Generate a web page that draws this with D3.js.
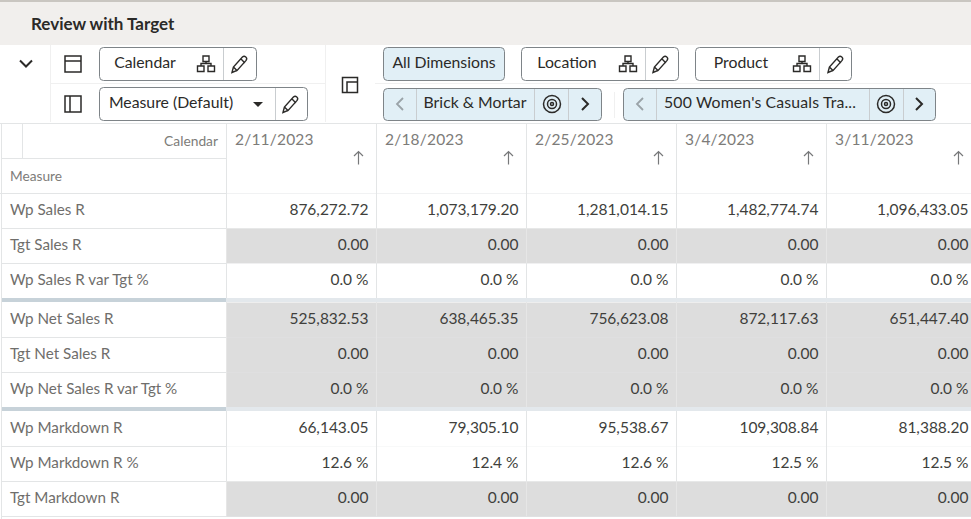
<!DOCTYPE html>
<html>
<head>
<meta charset="utf-8">
<script src="https://cdn.jsdelivr.net/npm/d3@7"></script>
<style>
  html, body { margin: 0; padding: 0; background: #fff; overflow: hidden; }
  svg { display: block; font-family: Lato, "Open Sans", sans-serif; }
</style>
</head>
<body>
<svg id="chart" width="971" height="519"></svg>
<script>
const title = "Review with Target"
const dates = ["2/11/2023", "2/18/2023", "2/25/2023", "3/4/2023", "3/11/2023"]
const measures = [
  ["Wp Sales R", "Tgt Sales R", "Wp Sales R var Tgt %"],
  ["Wp Net Sales R", "Tgt Net Sales R", "Wp Net Sales R var Tgt %"],
  ["Wp Markdown R", "Wp Markdown R %", "Tgt Markdown R"]
]
const wpSales = ["876,272.72", "1,073,179.20", "1,281,014.15", "1,482,774.74", "1,096,433.05"]
const tgtSales = ["0.00", "0.00", "0.00", "0.00", "0.00"]
const wpSalesVar = ["0.0 %", "0.0 %", "0.0 %", "0.0 %", "0.0 %"]
const wpNet = ["525,832.53", "638,465.35", "756,623.08", "872,117.63", "651,447.40"]
const tgtNet = ["0.00", "0.00", "0.00", "0.00", "0.00"]
const wpNetVar = ["0.0 %", "0.0 %", "0.0 %", "0.0 %", "0.0 %"]
const wpMarkdown = ["66,143.05", "79,305.10", "95,538.67", "109,308.84", "81,388.20"]
const wpMarkdownPct = ["12.6 %", "12.4 %", "12.6 %", "12.5 %", "12.5 %"]
const tgtMarkdown = ["0.00", "0.00", "0.00", "0.00", "0.00"]
const values = [
  [wpSales, tgtSales, wpSalesVar],
  [wpNet, tgtNet, wpNetVar],
  [wpMarkdown, wpMarkdownPct, tgtMarkdown]
]
const shaded = [
  [false, true, false],
  [true, true, true],
  [false, false, true]
]

const svg = d3.select("#chart")

const lineColor = "#e3e5e6"
const textDark = "#2b2a28"
const textGrey = "#6f6e6b"
const blue = "#e1eff6"
const edge = "#7e8488"

// table scales
const x = d3.scaleBand().domain(dates).range([226.5, 976.5])
const yGroup = d3.scaleBand().domain(d3.range(3)).range([193, 520])
const yRow = d3.scaleBand().domain(d3.range(3)).range([0, 105])

// title bar
svg.append("rect").attr("width", 971).attr("height", 45).attr("fill", "#f1efed")
svg.append("rect").attr("width", 971).attr("height", 2).attr("fill", "#c9c6c1")
svg.append("text").attr("x", 31).attr("y", 30)
  .attr("font-size", 17).attr("font-weight", 700).attr("fill", textDark).text(title)

// toolbar separators
const sep = (x1, y1, x2, y2) => svg.append("line")
  .attr("x1", x1).attr("y1", y1).attr("x2", x2).attr("y2", y2)
  .attr("stroke", "#f0f0f0")
sep(50.5, 45, 50.5, 122)
sep(325.5, 45, 325.5, 122)
sep(50, 83.5, 325, 83.5)
sep(375, 83.5, 971, 83.5)
sep(614.5, 92, 614.5, 118)

const icon = (px, py, d, color = "#2b2a28", sw = 1.4, fill = "none") => svg.append("path")
  .attr("transform", `translate(${px},${py})`)
  .attr("d", d).attr("fill", fill).attr("stroke", color).attr("stroke-width", sw)

const hierarchy = "M-3 -9h6v5.5h-6zM-8.5 1h6.5v5.5h-6.5zM2 1h6.5v5.5h-6.5zM0 -3.5v2M-5 1v-2.5h10v2.5"
const pencil = "M-8 8.5l1.4 -5.5l9 -10q1.7 -1.4 3.4 0t0.3 3.4l-9 10zM-6.6 3l4.1 4.1M0.8 -5.2l4.1 4.1"
const target = "M-8.5 0a8.5 8.5 0 1 0 17 0a8.5 8.5 0 1 0 -17 0M-4.5 0a4.5 4.5 0 1 0 9 0a4.5 4.5 0 1 0 -9 0M-1.5 0a1.5 1.5 0 1 0 3 0a1.5 1.5 0 1 0 -3 0"
const chevR = "M-3 -6l6 6l-6 6"
const chevL = "M3 -6l-6 6l6 6"

const box = (bx, by, w, h, fill = "#fff") => svg.append("rect")
  .attr("x", bx + .5).attr("y", by + .5).attr("width", w).attr("height", h)
  .attr("rx", 4).attr("fill", fill).attr("stroke", edge)
const divider = (dx, by, h) => svg.append("line")
  .attr("x1", dx + .5).attr("x2", dx + .5).attr("y1", by + 1).attr("y2", by + h)
  .attr("stroke", "#c9cdd0")
const label = (lx, ly, s, anchor = "start") => svg.append("text")
  .attr("x", lx).attr("y", ly).attr("font-size", 15.8)
  .attr("text-anchor", anchor).attr("fill", textDark).text(s)

// left toolbar
icon(26, 63, "M-6 -2.5l6 6l6 -6", textDark, 2)
icon(73, 64, "M-8 -8h16v16h-16zM-8 -3h16", textDark, 1.5)
icon(73, 104, "M-8 -8h16v16h-16zM-3 -8v16", textDark, 1.5)

box(99, 47, 157, 33)
divider(223, 47, 33)
label(145, 68, "Calendar", "middle")
icon(206, 65, hierarchy)
icon(240, 64, pencil)

box(99, 87, 208, 33)
divider(275, 87, 33)
label(171, 108, "Measure (Default)", "middle")
icon(258, 104, "M-5 -2h10l-5 5z", textDark, 0, textDark)
icon(291, 104, pencil)

icon(350, 85, "M-7.5 -7.5h15v15h-15zM-3 7.5v-10.5h10.5", textDark, 1.5)

// right toolbar, top row
box(383, 47, 121, 33, blue)
label(444, 68, "All Dimensions", "middle")

box(521, 47, 157, 33)
divider(645, 47, 33)
label(567, 68, "Location", "middle")
icon(628, 65, hierarchy)
icon(661, 64, pencil)

box(695, 47, 156, 33)
divider(819, 47, 33)
label(741, 68, "Product", "middle")
icon(802, 65, hierarchy)
icon(836, 64, pencil)

// right toolbar, bottom row
box(383, 88, 218, 32, blue)
divider(416, 88, 32); divider(534, 88, 32); divider(568, 88, 32)
icon(400, 104, chevL, "#9aa3a8", 1.8)
label(475, 108, "Brick & Mortar", "middle")
icon(552, 104, target, textDark, 1.5)
icon(585, 104, chevR, textDark, 2)

box(623, 88, 312, 32, blue)
divider(656, 88, 32); divider(869, 88, 32); divider(903, 88, 32)
icon(640, 104, chevL, "#9aa3a8", 1.8)
label(664, 108, "500 Women's Casuals Tra...").attr("letter-spacing", .16)
icon(886, 104, target, textDark, 1.5)
icon(919, 104, chevR, textDark, 2)

// header
const head = svg.append("g")
const hline = (g, x1, x2, y, color = lineColor) => g.append("line")
  .attr("x1", x1).attr("x2", x2).attr("y1", y).attr("y2", y).attr("stroke", color)
const vline = (g, xp, y1, y2, color = lineColor) => g.append("line")
  .attr("x1", xp).attr("x2", xp).attr("y1", y1).attr("y2", y2).attr("stroke", color)

hline(head, 0, 971, 123.5)
hline(head, 2, 226, 158.5)
hline(head, 0, 971, 193.5)
vline(head, 1.5, 124, 519)
vline(head, 22.5, 124, 158)
head.append("text").attr("x", 218).attr("y", 146).attr("text-anchor", "end")
  .attr("font-size", 13.8).attr("fill", "#7d7c79").text("Calendar")
head.append("text").attr("x", 10).attr("y", 181)
  .attr("font-size", 13.7).attr("fill", "#7d7c79").text("Measure")

const cols = head.selectAll("g.col").data(dates).join("g")
  .attr("class", "col")
  .attr("transform", d => `translate(${x(d)},0)`)
cols.append("line").attr("y1", 124).attr("y2", 193).attr("stroke", lineColor)
cols.append("text").attr("x", 8.5).attr("y", 145)
  .attr("font-size", 15.5).attr("letter-spacing", .2).attr("fill", "#7d7c79").text(d => d)
cols.append("path")
  .attr("transform", `translate(${x.bandwidth() - 18},158)`)
  .attr("d", "M0 -6.5v13M-4.5 -2l4.5 -4.5l4.5 4.5")
  .attr("fill", "none").attr("stroke", "#77787a").attr("stroke-width", 1.2)

// rows
const group = svg.selectAll("g.group").data(measures).join("g")
  .attr("class", "group")
  .attr("transform", (d, i) => `translate(0,${yGroup(i)})`)

group.each(function (names, g) {
  const row = d3.select(this).selectAll("g.row").data(names).join("g")
    .attr("class", "row")
    .attr("transform", (d, r) => `translate(0,${yRow(r)})`)

  row.append("line").attr("x1", 2).attr("x2", 971)
    .attr("y1", yRow.bandwidth() + .5).attr("y2", yRow.bandwidth() + .5)
    .attr("stroke", lineColor)
  row.append("text").attr("x", 10).attr("y", 21.5)
    .attr("font-size", 15.2).attr("fill", textGrey).text(d => d)

  row.each(function (name, r) {
    const cell = d3.select(this).selectAll("g.cell").data(values[g][r]).join("g")
      .attr("class", "cell")
      .attr("transform", (d, i) => `translate(${x(dates[i])},0)`)
    cell.append("rect")
      .attr("width", x.bandwidth()).attr("height", yRow.bandwidth())
      .attr("y", 0.5)
      .attr("fill", shaded[g][r] ? "#dddddd" : "#fff")
    cell.append("line").attr("y1", 0).attr("y2", yRow.bandwidth())
      .attr("stroke", shaded[g][r] ? "#e6e6e6" : lineColor)
    cell.append("text")
      .attr("x", x.bandwidth() - 8).attr("y", 21.5)
      .attr("text-anchor", "end").attr("font-size", 15.5)
      .attr("fill", "#403f3c").text(d => d)
  })
})

// thick group separators
yGroup.domain().slice(1).forEach(i => {
  const top = yGroup(i) - 4
  svg.append("rect").attr("x", 226).attr("y", top).attr("width", 745).attr("height", 4).attr("fill", "#e3e8ec")
  svg.append("rect").attr("x", 2).attr("y", top).attr("width", 224).attr("height", 4).attr("fill", "#c7d2d9")
})
</script>
</body>
</html>
